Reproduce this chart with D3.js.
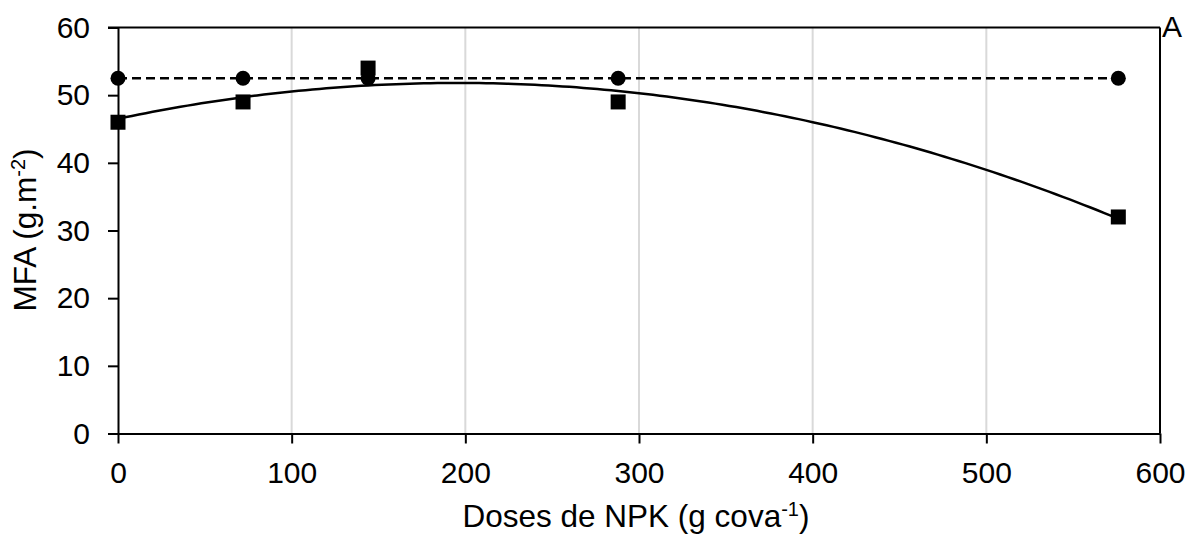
<!DOCTYPE html>
<html>
<head>
<meta charset="utf-8">
<script src="https://cdn.jsdelivr.net/npm/d3@7"></script>
<style>
  html, body { margin: 0; padding: 0; background: #fff; }
  svg { display: block; font-family: "Liberation Sans", Arial, sans-serif; }
</style>
</head>
<body>
<svg id="chart" width="1190" height="536"></svg>
<script>
// NPK doses (g per planting hole)
const doses = [0, 72, 144, 288, 576];
// MFA (g.m-2) for the two treatments
const seriesCircle = [52.5, 52.5, 52.5, 52.5, 52.5];
const seriesSquare = [46, 49, 54, 49, 32];
const xTicks = [0, 100, 200, 300, 400, 500, 600];
const yTicks = [0, 10, 20, 30, 40, 50, 60];

const svg = d3.select("#chart");
const plotLeft = 118, plotRight = 1160, plotTop = 27.5, plotBottom = 433.5;

const x = d3.scaleLinear().domain([0, 600]).range([plotLeft, plotRight]);
const y = d3.scaleLinear().domain([0, 60]).range([plotBottom, plotTop]);

// vertical gridlines
svg.append("g").selectAll("line")
  .data(xTicks.filter(d => d > 0 && d < 600))
  .join("line")
  .attr("x1", d => x(d)).attr("x2", d => x(d))
  .attr("y1", plotTop).attr("y2", plotBottom)
  .attr("stroke", "#d9d9d9").attr("stroke-width", 2);

// frame: top and right border
svg.append("line").attr("x1", plotLeft - 10).attr("x2", plotRight)
  .attr("y1", y(60)).attr("y2", y(60)).attr("stroke", "#000").attr("stroke-width", 2);
svg.append("line").attr("x1", plotRight).attr("x2", plotRight)
  .attr("y1", plotTop).attr("y2", plotBottom).attr("stroke", "#000").attr("stroke-width", 2);

// x axis
const xAxis = svg.append("g").attr("transform", `translate(0,${plotBottom})`)
  .call(d3.axisBottom(x).tickValues(xTicks).tickSize(10).tickPadding(18).tickSizeOuter(0));
// y axis
const yAxis = svg.append("g").attr("transform", `translate(${plotLeft},0)`)
  .call(d3.axisLeft(y).tickValues(yTicks).tickSize(10).tickPadding(18).tickSizeOuter(0));

[xAxis, yAxis].forEach(g => {
  g.select(".domain").attr("stroke", "#000").attr("stroke-width", 2);
  g.selectAll(".tick line").attr("stroke", "#000").attr("stroke-width", 2);
  g.selectAll(".tick text").attr("fill", "#000")
    .style("font-size", "30px").style("font-family", "Liberation Sans, Arial, sans-serif");
});

// dashed mean line for the circle series
const meanCircle = d3.mean(seriesCircle);
svg.append("line")
  .attr("x1", x(0)).attr("x2", x(576))
  .attr("y1", y(meanCircle)).attr("y2", y(meanCircle))
  .attr("stroke", "#000").attr("stroke-width", 2.5)
  .attr("stroke-dasharray", "9,5");

// quadratic least-squares fit for the square series
function quadFit(xs, ys) {
  const s = [0, 0, 0, 0, 0], t = [0, 0, 0];
  xs.forEach((xi, i) => {
    for (let k = 0; k < 5; k++) s[k] += Math.pow(xi, k);
    for (let k = 0; k < 3; k++) t[k] += Math.pow(xi, k) * ys[i];
  });
  const M = [[s[0], s[1], s[2], t[0]], [s[1], s[2], s[3], t[1]], [s[2], s[3], s[4], t[2]]];
  for (let i = 0; i < 3; i++) {
    for (let j = i + 1; j < 3; j++) {
      const f = M[j][i] / M[i][i];
      for (let k = i; k < 4; k++) M[j][k] -= f * M[i][k];
    }
  }
  const c = [0, 0, 0];
  for (let i = 2; i >= 0; i--) {
    let v = M[i][3];
    for (let k = i + 1; k < 3; k++) v -= M[i][k] * c[k];
    c[i] = v / M[i][i];
  }
  return c;
}
const coef = quadFit(doses, seriesSquare);
const curvePts = d3.range(0, 576.01, 4).map(d => [d, coef[0] + coef[1] * d + coef[2] * d * d]);
svg.append("path")
  .datum(curvePts)
  .attr("fill", "none").attr("stroke", "#000").attr("stroke-width", 2.5)
  .attr("d", d3.line().x(d => x(d[0])).y(d => y(d[1])));

// markers
svg.append("g").selectAll("circle")
  .data(doses.map((d, i) => [d, seriesCircle[i]]))
  .join("circle")
  .attr("cx", d => x(d[0])).attr("cy", d => y(d[1])).attr("r", 7.5).attr("fill", "#000");

const sq = 15;
svg.append("g").selectAll("rect")
  .data(doses.map((d, i) => [d, seriesSquare[i]]))
  .join("rect")
  .attr("x", d => x(d[0]) - sq / 2).attr("y", d => y(d[1]) - sq / 2)
  .attr("width", sq).attr("height", sq).attr("fill", "#000");

// axis titles
const xt = svg.append("text")
  .attr("x", (plotLeft + plotRight) / 2 - 3).attr("y", 527)
  .attr("text-anchor", "middle").style("font-size", "31.5px");
xt.append("tspan").text("Doses de NPK (g cova");
xt.append("tspan").text("-1").attr("dy", -11).style("font-size", "20px");
xt.append("tspan").text(")").attr("dy", 11);

const yt = svg.append("text")
  .attr("transform", `translate(36,230) rotate(-90)`)
  .attr("text-anchor", "middle").style("font-size", "31.5px");
yt.append("tspan").text("MFA (g.m");
yt.append("tspan").text("-2").attr("dy", -11).style("font-size", "20px");
yt.append("tspan").text(")").attr("dy", 11);

// panel letter
svg.append("text").attr("x", 1162).attr("y", 37).style("font-size", "30px").text("A");
</script>
</body>
</html>
